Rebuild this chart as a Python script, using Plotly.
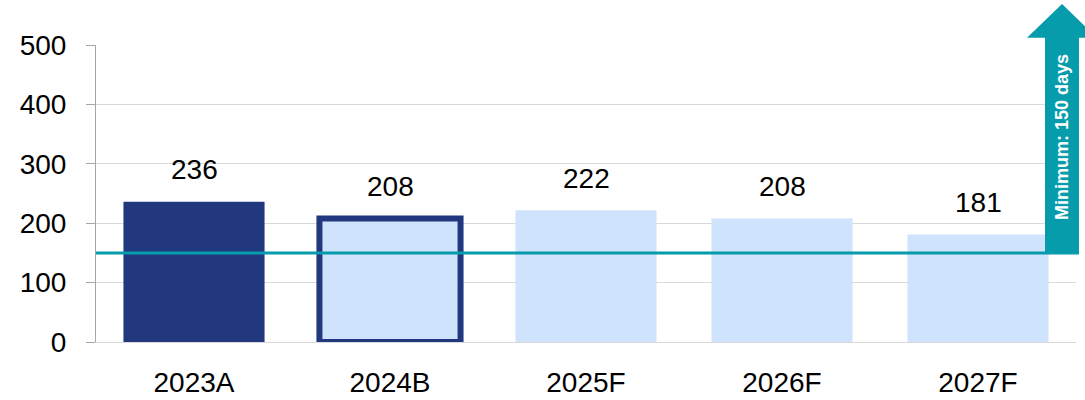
"""
Days of cover chart with a minimum threshold arrow.
"""
import plotly.graph_objects as go

categories = ['2023A', '2024B', '2025F', '2026F', '2027F']
values = [236, 208, 222, 208, 181]
minimum_days = 150
minimum_label = 'Minimum: 150 days'
y_ticks = [0, 100, 200, 300, 400, 500]

NAVY = '#21387f'
LIGHT = '#d0e3fc'
TEAL = '#079cab'
FONT = 'Liberation Sans, Arial, sans-serif'

Y_MAX = 500
# plot area spans 96px..1076px horizontally
PLOT_L, PLOT_W = 96, 980


def _px(x):
    """Pixel x -> paper x."""
    return (x - PLOT_L) / PLOT_W


fill = [NAVY if c.endswith('A') else LIGHT for c in categories]
line_w = [6 if c.endswith('B') else 0 for c in categories]

fig = go.Figure(go.Bar(
    x=categories,
    y=values,
    width=0.72,
    marker=dict(color=fill, line=dict(color=NAVY, width=line_w)),
    hoverinfo='x+y',
))

for c, v in zip(categories, values):
    fig.add_annotation(
        x=c, y=v, text=str(v), showarrow=False,
        yanchor='middle', yshift=32,
        font=dict(family=FONT, size=28, color='#000000'),
    )

# minimum line
fig.add_shape(
    type='line', xref='paper', yref='y',
    x0=0, x1=_px(1079), y0=minimum_days, y1=minimum_days,
    line=dict(color=TEAL, width=3), layer='above',
)

# upward arrow (paper coords so it can rise above the plot)
y_min = minimum_days / Y_MAX
y_head = 512 / Y_MAX
y_tip = 569 / Y_MAX
sx0, sx1 = _px(1045), _px(1079)
hx0, hx1 = _px(1027), _px(1097)
xc = (hx0 + hx1) / 2
path = (f'M {sx0} {y_min} L {sx0} {y_head} L {hx0} {y_head} L {xc} {y_tip} '
        f'L {hx1} {y_head} L {sx1} {y_head} L {sx1} {y_min} Z')
fig.add_shape(type='path', xref='paper', yref='paper', path=path,
              fillcolor=TEAL, line=dict(width=0), layer='above')

fig.add_annotation(
    xref='paper', yref='paper', x=(sx0 + sx1) / 2, y=345 / Y_MAX,
    xanchor='center', yanchor='middle',
    text=f'<b>{minimum_label}</b>', showarrow=False, textangle=-90,
    font=dict(family=FONT, size=18, color='white'),
)

fig.update_layout(
    width=1085, height=400,
    margin=dict(l=96, r=9, t=45, b=58, autoexpand=False),
    plot_bgcolor='white', paper_bgcolor='white',
    showlegend=False,
    bargap=0.28,
    font=dict(family=FONT, size=28, color='#000000'),
)
fig.update_xaxes(
    automargin=False,
    showgrid=False, showline=True, linecolor='#d9d9d9', linewidth=1,
    ticks='', ticklabelstandoff=15,
    tickfont=dict(family=FONT, size=28, color='#000000'),
)
fig.update_yaxes(
    automargin=False,
    range=[0, Y_MAX], tickvals=y_ticks,
    showgrid=True, gridcolor='#d9d9d9', gridwidth=1, zeroline=False,
    showline=True, linecolor='#a6a6a6', linewidth=1,
    ticks='outside', ticklen=9, tickcolor='#a6a6a6', ticklabelstandoff=14,
    tickfont=dict(family=FONT, size=28, color='#000000'),
)

# page body margin would push the fixed-size figure off the window
fig.write_html('out.html', config={'displayModeBar': False},
               post_script="document.body.style.margin = '0';")
